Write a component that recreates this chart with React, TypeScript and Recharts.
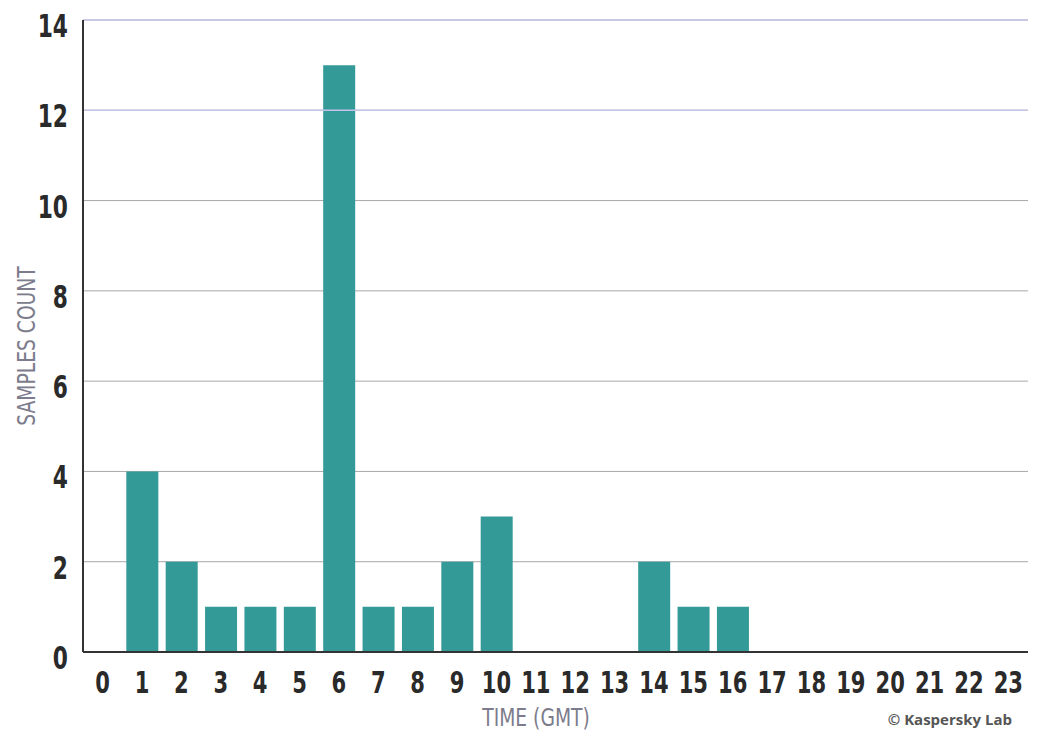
import React from 'react';
import { BarChart, Bar, XAxis, YAxis, CartesianGrid, ReferenceLine } from 'recharts';

const hours = ['0', '1', '2', '3', '4', '5', '6', '7', '8', '9', '10', '11', '12', '13', '14', '15', '16', '17', '18', '19', '20', '21', '22', '23'];
const samples = [0, 4, 2, 1, 1, 1, 13, 1, 1, 2, 3, 0, 0, 0, 2, 1, 1, 0, 0, 0, 0, 0, 0, 0];
const yTicks = [0, 2, 4, 6, 8, 10, 12, 14];
const lavenderLines = [12, 14];

const data = hours.map((h, i) => ({ hour: h, count: samples[i] }));

const FONT = '"DejaVu Sans", "Roboto", sans-serif';
const SQUEEZE = 0.68;

// condensed bold tick, squeezed horizontally since no condensed font is installed
const XTick = ({ x, y, payload }: any) => (
    <g transform={`translate(${x},${y + 33}) scale(${SQUEEZE},1)`}>
        <text x={0} y={0} textAnchor="middle" fill="#2a2a2a" fontSize={31} fontWeight={700} fontFamily={FONT}>
            {payload.value}
        </text>
    </g>
);

const YTick = ({ x, y, payload }: any) => (
    <g transform={`translate(${x + 4},${y + 17}) scale(${SQUEEZE},1)`}>
        <text x={0} y={0} textAnchor="end" fill="#2a2a2a" fontSize={32} fontWeight={700} fontFamily={FONT}>
            {payload.value}
        </text>
    </g>
);

export default function App() {
    return (
        <div style={{ position: 'relative', width: 1037, height: 739, background: '#fff', fontFamily: FONT }}>
            <style>{`body { margin: 0; }`}</style>
            <BarChart
                width={1037}
                height={739}
                data={data}
                margin={{ top: 20, right: 9, left: 0, bottom: 0 }}
                barCategoryGap="10%"
            >
                <CartesianGrid stroke="#a8a8a8" vertical={false} />
                {lavenderLines.map((v) => (
                    <ReferenceLine key={v} y={v} stroke="#c4c4ea" strokeWidth={1.5} />
                ))}
                <XAxis
                    dataKey="hour"
                    height={87}
                    tickLine={false}
                    axisLine={{ stroke: '#333', strokeWidth: 2 }}
                    interval={0}
                    tick={<XTick />}
                />
                <YAxis
                    width={83}
                    domain={[0, 14]}
                    ticks={yTicks}
                    tickLine={false}
                    axisLine={{ stroke: '#333', strokeWidth: 2 }}
                    tickMargin={13}
                    tick={<YTick />}
                />
                <Bar dataKey="count" fill="#339a98" isAnimationActive={false} />
            </BarChart>
            <div
                style={{
                    position: 'absolute',
                    left: 27,
                    top: 346,
                    transform: 'translate(-50%, -50%) rotate(-90deg) scale(0.78, 1)',
                    whiteSpace: 'nowrap',
                    color: '#7c7c8c',
                    fontSize: 24,
                    lineHeight: 1,
                }}
            >
                SAMPLES COUNT
            </div>
            <div
                style={{
                    position: 'absolute',
                    left: 536,
                    top: 718,
                    transform: 'translate(-50%, -50%) scale(0.78, 1)',
                    whiteSpace: 'nowrap',
                    color: '#7c7c8c',
                    fontSize: 24,
                    lineHeight: 1,
                }}
            >
                TIME (GMT)
            </div>
            <div
                style={{
                    position: 'absolute',
                    right: 25,
                    top: 719,
                    transform: 'translateY(-50%)',
                    whiteSpace: 'nowrap',
                    color: '#555',
                    fontSize: 15,
                    fontWeight: 700,
                    fontFamily: '"Open Sans", sans-serif',
                }}
            >
                © Kaspersky Lab
            </div>
        </div>
    );
}
